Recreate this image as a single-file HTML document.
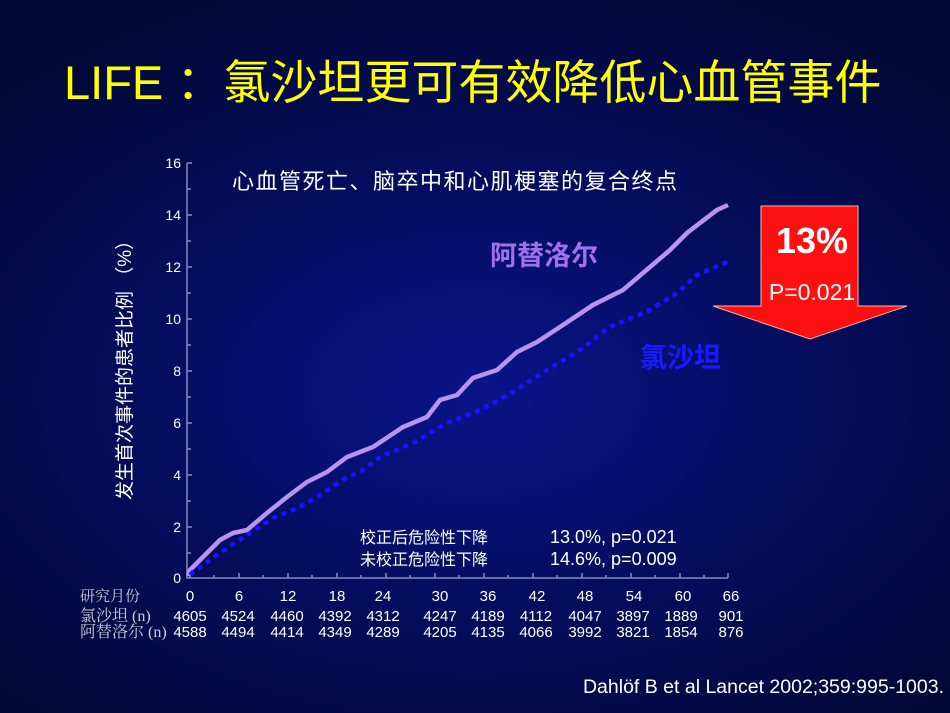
<!DOCTYPE html>
<html><head><meta charset="utf-8"><style>
body{margin:0;width:950px;height:713px;overflow:hidden;background:radial-gradient(ellipse 70% 60% at 50% 55%,#0a1488 0%,#050d5e 50%,#020836 100%);font-family:"Liberation Sans","Noto Sans CJK SC",sans-serif;}
svg{position:absolute;left:0;top:0}
</style></head><body>
<svg width="950" height="713" viewBox="0 0 950 713">
<text x="64" y="99" fill="#ffff00" font-size="47" font-family="Liberation Sans,Noto Sans CJK SC,sans-serif">LIFE ：氯沙坦更可有效降低心血管事件</text>
<g stroke="#8888bb" stroke-width="1.5" fill="none">
<path d="M187 163 V578 H728"/>
<path d="M187 163h5M187 189h4M187 215h5M187 241h4M187 267h5M187 293h4M187 319h5M187 345h4M187 371h5M187 397h4M187 423h5M187 449h4M187 475h5M187 501h4M187 527h5M187 553h4"/>
<path d="M190 578v-5M214 578v-3M239 578v-5M263 578v-3M288 578v-5M312 578v-3M337 578v-5M361 578v-3M386 578v-5M410 578v-3M435 578v-5M459 578v-3M484 578v-5M508 578v-3M533 578v-5M557 578v-3M582 578v-5M606 578v-3M631 578v-5M655 578v-3M680 578v-5M704 578v-3M728 578v-5"/>
</g>
<g fill="#fff" font-size="14" text-anchor="end">
<text x="181" y="168">16</text><text x="181" y="220">14</text><text x="181" y="272">12</text><text x="181" y="324">10</text><text x="181" y="376">8</text><text x="181" y="428">6</text><text x="181" y="480">4</text><text x="181" y="532">2</text><text x="181" y="583">0</text>
</g>
<text transform="translate(131 500) rotate(-90)" fill="#fff" font-size="19">发生首次事件的患者比例 （%）</text>
<text x="232" y="189" fill="#fff" font-size="22" letter-spacing="1.5">心血管死亡、脑卒中和心肌梗塞的复合终点</text>
<path d="M188 576 L190 570 L205 555 L220 540 L233 533 L247 530 L267 513 L287 497 L307 482 L327 472 L347 457 L360 452 L373 447 L403 427 L427 417 L440 400 L457 395 L473 378 L497 370 L517 352 L537 342 L563 325 L593 305 L623 290 L650 267 L670 250 L687 233 L717 210 L728 205" fill="none" stroke="#b894f0" stroke-width="4.5"/>
<path d="M190 575 L193 572 L220 553 L247 535 L273 518 L300 507 L323 493 L347 477 L360 472 L380 457 L413 443 L447 423 L480 410 L513 392 L547 370 L580 350 L610 327 L650 310 L677 293 L697 275 L727 262" fill="none" stroke="#1515ff" stroke-width="4.5" stroke-dasharray="5 5"/>
<text x="490" y="265" fill="#a070f0" font-size="27" font-weight="bold">阿替洛尔</text>
<text x="640" y="367" fill="#1a1aff" font-size="27" font-weight="bold">氯沙坦</text>
<g fill="#fff" font-size="16">
<text x="360" y="543">校正后危险性下降</text><text x="550" y="543" font-size="18">13.0%, p=0.021</text>
<text x="360" y="565">未校正危险性下降</text><text x="550" y="565" font-size="18">14.6%, p=0.009</text>
</g>
<polygon points="761,206 858,206 858,306 907,306 810,339 713,306 761,306" fill="#ff1010" stroke="#ffb0b0" stroke-width="1"/>
<text x="812" y="253" fill="#fff" font-size="36" font-weight="bold" text-anchor="middle">13%</text>
<text x="812" y="300" fill="#fff" font-size="23" text-anchor="middle">P=0.021</text>
<g fill="#fff" font-size="15" text-anchor="middle">
<text x="80" y="601" fill="#ccccdd" text-anchor="start" font-family="Liberation Serif,Noto Serif CJK SC,serif">研究月份</text>
<text x="190" y="601">0</text><text x="239" y="601">6</text><text x="288" y="601">12</text><text x="337" y="601">18</text><text x="383" y="601">24</text><text x="440" y="601">30</text><text x="488" y="601">36</text><text x="537" y="601">42</text><text x="585" y="601">48</text><text x="634" y="601">54</text><text x="683" y="601">60</text><text x="731" y="601">66</text>
<text x="80" y="621" fill="#ccccdd" text-anchor="start" font-family="Liberation Serif,Noto Serif CJK SC,serif" font-size="16">氯沙坦  (n)</text>
<text x="190" y="621">4605</text><text x="238" y="621">4524</text><text x="287" y="621">4460</text><text x="335" y="621">4392</text><text x="383" y="621">4312</text><text x="440" y="621">4247</text><text x="488" y="621">4189</text><text x="536" y="621">4112</text><text x="585" y="621">4047</text><text x="633" y="621">3897</text><text x="681" y="621">1889</text><text x="731" y="621">901</text>
<text x="80" y="637" fill="#ccccdd" text-anchor="start" font-family="Liberation Serif,Noto Serif CJK SC,serif" font-size="16">阿替洛尔  (n)</text>
<text x="190" y="637">4588</text><text x="238" y="637">4494</text><text x="287" y="637">4414</text><text x="335" y="637">4349</text><text x="383" y="637">4289</text><text x="440" y="637">4205</text><text x="488" y="637">4135</text><text x="536" y="637">4066</text><text x="585" y="637">3992</text><text x="633" y="637">3821</text><text x="681" y="637">1854</text><text x="731" y="637">876</text>
</g>
<text x="944" y="693" fill="#fff" font-size="19.5" text-anchor="end">Dahlöf B et al Lancet 2002;359:995-1003.</text>
</svg>
</body></html>
